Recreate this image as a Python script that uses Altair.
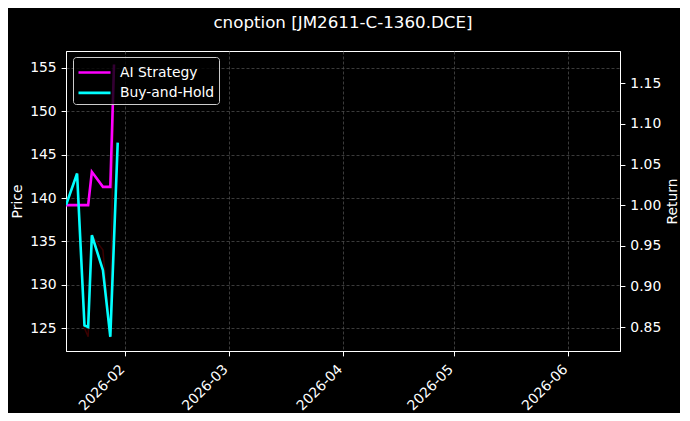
import altair as alt
import pandas as pd

# ---- data ----
bh_dates = ["2026-01-16", "2026-01-19", "2026-01-21", "2026-01-22",
            "2026-01-23", "2026-01-26", "2026-01-28", "2026-01-30"]
bh_values = [1.000, 1.039, 0.852, 0.850, 0.963, 0.920, 0.838, 1.077]

ai_dates = ["2026-01-16", "2026-01-22", "2026-01-23", "2026-01-26",
            "2026-01-28", "2026-01-29"]
ai_values = [1.000, 1.000, 1.041, 1.0225, 1.0225, 1.173]

price_dates = ["2026-01-16", "2026-01-19", "2026-01-21", "2026-01-22",
               "2026-01-23", "2026-01-26", "2026-01-28", "2026-01-29"]
price_values = [139.4, 142.9, 125.0, 124.0, 135.7, 134.0, 123.9, 155.4]

series_names = ["AI Strategy", "Buy-and-Hold"]
series_colors = ["#ff00ff", "#00ffff"]

price_ticks = [125, 130, 135, 140, 145, 150, 155]
return_ticks = [0.85, 0.90, 0.95, 1.00, 1.05, 1.10, 1.15]


def local(d):
    return d + "T00:00:00"


ret_df = pd.DataFrame(
    {"date": [local(d) for d in ai_dates + bh_dates],
     "value": ai_values + bh_values,
     "series": [series_names[0]] * len(ai_dates) + [series_names[1]] * len(bh_dates),
     "order": list(range(len(ai_dates))) + list(range(len(bh_dates)))}
)
price_df = pd.DataFrame({"date": [local(d) for d in price_dates], "price": price_values})

FONT = "DejaVu Sans"
x_scale = alt.Scale(domain=[alt.DateTime(year=2026, month=1, date=16),
                            alt.DateTime(year=2026, month=6, date=15)])
x_axis = alt.Axis(title=None, format="%Y-%m",
                  tickCount=alt.TickCount(interval="month", step=1),
                  labelAngle=-45, labelAlign="right", labelBaseline="middle",
                  labelPadding=11, labelOffset=-3,
                  grid=True)

price_layer = alt.Chart(price_df).mark_line(
    color="#3a0000", strokeWidth=1.5, clip=True
).encode(
    x=alt.X("date:T", scale=x_scale, axis=x_axis),
    y=alt.Y("price:Q", scale=alt.Scale(domain=[122.35, 156.96], nice=False, zero=False),
            axis=alt.Axis(title="Price", values=price_ticks,
                          grid=True, orient="left", titlePadding=5)),
)

ret_layer = alt.Chart(ret_df).mark_line(strokeWidth=2.6, clip=True).encode(
    x=alt.X("date:T", scale=x_scale, axis=x_axis),
    y=alt.Y("value:Q", scale=alt.Scale(domain=[0.8205, 1.1897], nice=False, zero=False),
            axis=alt.Axis(title="Return", values=return_ticks,
                          format=".2f", grid=False, orient="right",
                          titleAngle=270, titleBaseline="top", titlePadding=5)),
    color=alt.Color("series:N",
                    scale=alt.Scale(domain=series_names, range=series_colors),
                    legend=alt.Legend(title=None, orient="none", legendX=7, legendY=6,
                                      fillColor="rgba(0,0,0,0.8)", strokeColor="#cccccc",
                                      cornerRadius=3, padding=4,
                                      symbolType="M-1,0H2.2", symbolSize=400,
                                      symbolStrokeWidth=2.6, labelOffset=20,
                                      rowPadding=1.4, labelFontSize=13.9,
                                      labelColor="white", labelFont=FONT)),
    order="order:Q",
)

chart = alt.layer(price_layer, ret_layer).resolve_scale(
    y="independent"
).properties(
    width=554, height=300,
    background="black",
    padding={"left": 58, "top": 43, "right": 60, "bottom": 62},
    autosize=alt.AutoSizeParams(type="none"),
    title=alt.TitleParams("cnoption [JM2611-C-1360.DCE]", anchor="middle",
                          frame="group", baseline="alphabetic", offset=6,
                          fontSize=16.7, font=FONT, fontWeight="normal",
                          color="white"),
).configure_view(
    stroke="white", strokeWidth=1, fill="black"
).configure_axis(
    labelFont=FONT, titleFont=FONT, labelFontSize=13.9, titleFontSize=13.9,
    labelColor="white", titleColor="white", titleFontWeight="normal",
    tickColor="white", tickSize=4.9, labelPadding=4.9,
    domainColor="white", domainWidth=1,
    gridColor="#555555", gridDash=[3, 2], gridWidth=0.7, gridOpacity=1,
)

chart.save("out.html", embed_options={"renderer": "svg", "actions": False})
